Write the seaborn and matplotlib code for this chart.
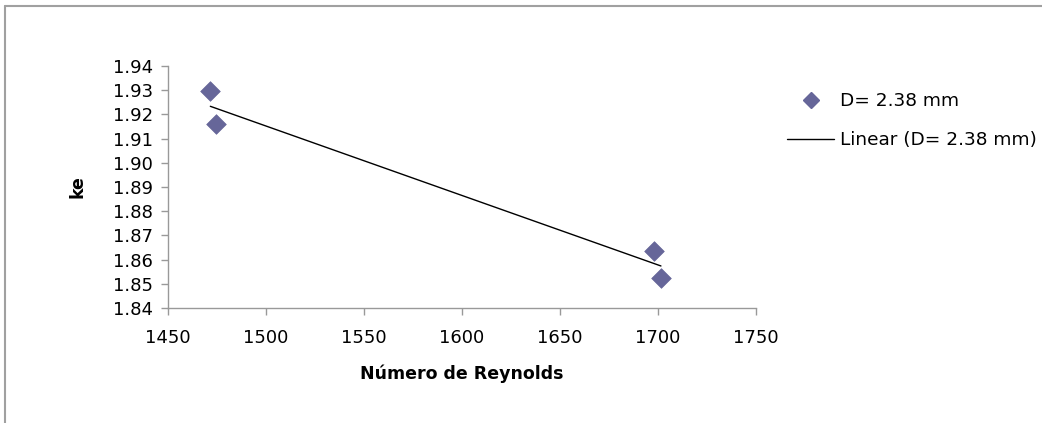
import numpy as np
import pandas as pd
import matplotlib
matplotlib.use('Agg')
import matplotlib.pyplot as plt
from matplotlib.lines import Line2D
import seaborn as sns

# data
reynolds = [1471.6, 1474.5, 1698.0, 1701.5]
ke = [1.9297, 1.9160, 1.8635, 1.8524]
series_label = 'D= 2.38 mm'
trend_label = 'Linear (D= 2.38 mm)'
x_ticks = [1450, 1500, 1550, 1600, 1650, 1700, 1750]
y_ticks = [1.84, 1.85, 1.86, 1.87, 1.88, 1.89, 1.90, 1.91, 1.92, 1.93, 1.94]

df = pd.DataFrame({'Reynolds': reynolds, 'ke': ke})

sns.set_style('white')
plt.rcParams['font.family'] = ['DejaVu Sans']
plt.rcParams['text.color'] = 'black'
plt.rcParams['axes.labelcolor'] = 'black'

fig = plt.figure(figsize=(10.42, 4.23), dpi=100)
ax = fig.add_axes([168 / 1042, 1 - 308 / 423, (756 - 168) / 1042, (308 - 66) / 423])

sns.scatterplot(data=df, x='Reynolds', y='ke', marker='D', s=100, color='#666699',
                edgecolor='#666699', linewidth=0.5, ax=ax, zorder=3)
sns.regplot(data=df, x='Reynolds', y='ke', scatter=False, ci=None, truncate=True, ax=ax,
            line_kws={'color': 'black', 'linewidth': 1.0})

ax.set_xlim(1450, 1750)
ax.set_ylim(1.84, 1.94)
ax.set_xticks(x_ticks)
ax.set_yticks(y_ticks)
ax.set_yticklabels([f'{v:.2f}' for v in y_ticks])

for side in ['top', 'right']:
    ax.spines[side].set_visible(False)
for side in ['left', 'bottom']:
    ax.spines[side].set_color('#999999')
    ax.spines[side].set_linewidth(1.0)
ax.tick_params(axis='both', direction='out', length=5, width=1, color='#999999',
               labelsize=13, labelcolor='black', bottom=True, left=True)
ax.tick_params(axis='x', pad=10)
ax.tick_params(axis='y', pad=6)

ax.set_xlabel('Número de Reynolds', fontsize=12.5, fontweight='bold', labelpad=13)
ax.set_ylabel('ke', fontsize=12.5, fontweight='bold', labelpad=19)

handles = [
    Line2D([], [], linestyle='none', marker='D', markersize=8, color='#666699'),
    Line2D([], [], color='black', linewidth=1.0),
]
ax.legend(handles, [series_label, trend_label], loc='upper left',
          bbox_to_anchor=(787 / 1042, 1 - 92 / 423),
          bbox_transform=fig.transFigure, frameon=False, fontsize=13.3,
          handlelength=2.55, handletextpad=0.3, labelspacing=1.15, borderpad=0,
          borderaxespad=0)

# outer chart border (top and left visible)
fig.add_artist(Line2D([5 / 1042, 1.0], [1 - 6.5 / 423, 1 - 6.5 / 423],
                      transform=fig.transFigure, color='#a0a0a0', linewidth=1.5))
fig.add_artist(Line2D([5 / 1042, 5 / 1042], [0.0, 1 - 6.5 / 423],
                      transform=fig.transFigure, color='#a0a0a0', linewidth=1.5))

plt.savefig('out.png', dpi=100)
